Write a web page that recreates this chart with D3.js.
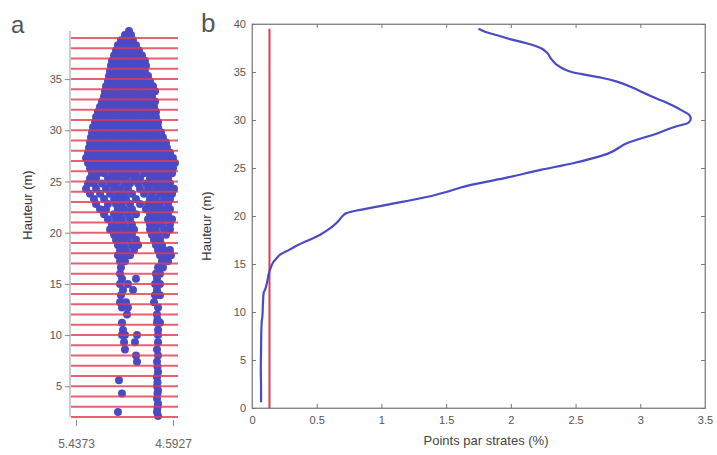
<!DOCTYPE html>
<html><head><meta charset="utf-8">
<script src="https://cdn.jsdelivr.net/npm/d3@7"></script>
<style>html,body{margin:0;padding:0;background:#fff}svg{display:block}</style>
</head><body>
<svg id="c" width="717" height="455"></svg>
<script>
// ---------- DATA ----------
// panel a : tick labels
const aYTicks = [5, 10, 15, 20, 25, 30, 35];
const aXTicks = [5.4373, 4.5927];
// panel a : horizontal strata (1 m)
const aStrata = [2,3,4,5,6,7,8,9,10,11,12,13,14,15,16,17,18,19,20,21,22,23,24,25,26,27,28,29,30,31,32,33,34,35,36,37,38,39];
// panel a : point cloud, rows of [height (m), [x coordinates]]
const treeRows = [
 [39.7,[4.976]],
 [39.3,[5.011,4.958]],
 [38.8,[5.046,4.993,4.941]],
 [38.3,[5.072,5.019,4.967,4.915]],
 [37.8,[5.089,5.037,4.985,4.932,4.889]],
 [37.3,[5.106,5.054,5.002,4.950,4.897,4.863]],
 [36.8,[5.124,5.072,5.019,4.967,4.915,4.863,4.837]],
 [36.3,[5.133,5.080,5.028,4.976,4.924,4.871,4.828]],
 [35.8,[5.141,5.089,5.037,4.985,4.932,4.880,4.837]],
 [35.3,[5.150,5.098,5.046,4.993,4.941,4.889,4.837,4.810]],
 [34.8,[5.159,5.106,5.054,5.002,4.950,4.897,4.845,4.793]],
 [34.3,[5.176,5.124,5.072,5.019,4.967,4.915,4.863,4.810,4.767]],
 [33.8,[5.185,5.133,5.080,5.028,4.976,4.924,4.871,4.819,4.767,4.749]],
 [33.3,[5.193,5.141,5.089,5.037,4.985,4.932,4.880,4.828,4.776]],
 [32.8,[5.211,5.159,5.106,5.054,5.002,4.950,4.897,4.845,4.793,4.749]],
 [32.3,[5.228,5.176,5.124,5.072,5.019,4.967,4.915,4.863,4.810,4.758]],
 [31.8,[5.246,5.193,5.141,5.089,5.037,4.985,4.932,4.880,4.828,4.776,4.741]],
 [31.3,[5.263,5.211,5.159,5.106,5.054,5.002,4.950,4.897,4.845,4.793,4.741]],
 [30.8,[5.272,5.220,5.167,5.115,5.063,5.011,4.958,4.906,4.854,4.802,4.749,4.723]],
 [30.3,[5.289,5.237,5.185,5.133,5.080,5.028,4.976,4.924,4.871,4.819,4.767,4.723]],
 [29.8,[5.298,5.246,5.193,5.141,5.089,5.037,4.985,4.932,4.880,4.828,4.776,4.732,4.697]],
 [29.3,[5.307,5.254,5.202,5.150,5.098,5.046,4.993,4.941,4.889,4.837,4.784,4.732,4.680]],
 [28.8,[5.315,5.263,5.211,5.159,5.106,5.054,5.002,4.950,4.897,4.845,4.793,4.741,4.689,4.654]],
 [28.3,[5.324,5.272,5.220,5.167,5.115,5.063,5.011,4.958,4.906,4.854,4.802,4.749,4.697,4.645]],
 [27.8,[5.333,5.281,5.228,5.176,5.124,5.072,5.019,4.967,4.915,4.863,4.810,4.758,4.706,4.654,4.619]],
 [27.3,[5.350,5.298,5.246,5.193,5.141,5.089,5.037,4.985,4.932,4.880,4.828,4.776,4.723,4.671,4.619,4.593]],
 [26.8,[5.333,5.281,5.228,5.176,5.124,5.072,5.019,4.967,4.915,4.863,4.810,4.758,4.706,4.654,4.601,4.575]],
 [26.3,[5.315,5.263,5.211,5.159,5.106,5.054,5.002,4.950,4.897,4.845,4.793,4.741,4.689,4.636,4.593]],
 [25.8,[5.298,5.246,5.193,5.124,5.072,5.019,4.967,4.915,4.845,4.793,4.741,4.689,4.636,4.601]],
 [25.3,[5.315,5.263,5.159,5.106,5.054,5.002,4.932,4.880,4.793,4.741,4.689,4.636]],
 [24.8,[5.333,5.281,5.211,5.141,5.089,5.019,4.967,4.897,4.828,4.776,4.723,4.671,4.619]],
 [24.3,[5.350,5.263,5.176,5.106,5.054,4.985,4.880,4.810,4.741,4.689,4.636,4.584]],
 [23.8,[5.315,5.228,5.141,5.072,5.019,4.950,4.845,4.776,4.706,4.654,4.601]],
 [23.3,[5.281,5.193,5.106,5.054,5.002,4.915,4.793,4.741,4.671,4.619]],
 [22.8,[5.263,5.159,5.089,5.037,4.967,4.880,4.810,4.758,4.706,4.636]],
 [22.3,[5.228,5.176,5.072,5.019,4.950,4.828,4.776,4.723,4.671,4.619]],
 [21.8,[5.193,5.106,5.054,4.985,4.915,4.793,4.741,4.689,4.636]],
 [21.3,[5.159,5.089,5.037,4.967,4.810,4.758,4.706,4.654,4.601]],
 [20.8,[5.124,5.072,5.019,4.950,4.793,4.741,4.689,4.619]],
 [20.3,[5.141,5.089,5.037,4.985,4.932,4.793,4.741,4.671,4.619]],
 [19.8,[5.106,5.054,5.002,4.950,4.776,4.723,4.654]],
 [19.3,[5.089,5.037,4.985,4.915,4.758,4.706]],
 [18.8,[5.072,5.019,4.950,4.897,4.741,4.689]],
 [18.3,[5.054,5.002,4.932,4.723,4.671,4.619]],
 [17.8,[5.072,5.019,4.967,4.706,4.654,4.610]],
 [17.2,[5.054,5.011,4.689,4.636]],
 [16.6,[5.046,4.723,4.680]],
 [16.0,[5.054,4.741,4.706]],
 [15.5,[5.037,4.915,4.732]],
 [15.0,[5.054,4.985,4.749,4.706]],
 [14.4,[5.028,4.941,4.732]],
 [13.9,[5.046,4.749,4.706]],
 [13.2,[5.054,5.002,4.758]],
 [12.7,[5.037,4.985,4.723]],
 [12.0,[4.993,4.732]],
 [11.5,[4.728]],
 [11.2,[5.037,4.732,4.706]],
 [10.5,[5.028,4.723]],
 [10.0,[5.037,5.011,4.906,4.723]],
 [9.3,[5.019,4.924,4.723]],
 [8.6,[5.011,4.732]],
 [8.0,[4.915,4.723]],
 [7.4,[4.906,4.732]],
 [6.9,[4.728]],
 [6.4,[4.723]],
 [5.9,[4.732]],
 [5.6,[5.063]],
 [5.4,[4.728]],
 [5.0,[4.732]],
 [4.6,[4.723]],
 [4.3,[5.037,4.728]],
 [3.8,[4.732]],
 [3.3,[4.723]],
 [2.9,[4.728]],
 [2.5,[5.072,4.732]],
 [2.1,[4.723]]
];
// panel b : ticks
const bXTicks = [0, 0.5, 1, 1.5, 2, 2.5, 3, 3.5];
const bYTicks = [0, 5, 10, 15, 20, 25, 30, 35, 40];
// panel b : profile of points per stratum (%)
const profHeight = [0.6,2,4,6,8,9,9.5,11,12,12.3,13,14,14.8,15.3,15.6,16,16.5,17,17.5,18,18.5,19,19.5,20,20.3,20.6,21,21.5,22,22.5,23,23.4,24,24.8,25.5,26.5,27.6,28.6,29.3,29.7,30.1,30.5,31,31.5,32,32.5,33,33.5,34,34.4,34.7,35,35.3,35.8,36.4,37,37.5,38,38.4,38.8,39.2,39.5];
const profPct    = [0.07,0.07,0.068,0.07,0.072,0.075,0.08,0.085,0.09,0.1,0.115,0.13,0.15,0.17,0.19,0.22,0.29,0.36,0.44,0.52,0.58,0.63,0.67,0.70,0.73,0.82,0.98,1.17,1.36,1.50,1.62,1.75,1.97,2.23,2.48,2.75,2.9,3.13,3.27,3.37,3.39,3.38,3.32,3.25,3.17,3.08,3.0,2.92,2.82,2.7,2.58,2.47,2.41,2.35,2.31,2.28,2.23,2.12,2.0,1.9,1.8,1.75];
// panel b : mean (red vertical line)
const meanPct = 0.135;
const meanTop = 39.5;

// ---------- DRAW ----------
const svg = d3.select('#c');
const FONT = 'Liberation Sans, Arial, sans-serif';
const blue = '#4a4ac6';
const red = '#e23a50';

// ===== Panel a =====
const xA = d3.scaleLinear().domain([5.4373, 4.5927]).range([76, 173]);
const yA = d3.scaleLinear().domain([2, 39.5]).range([417, 33]);
const aLeft = 71, aRight = 178;

const pts = [];
treeRows.forEach(([h, xs]) => xs.forEach(x => pts.push({h, x})));
svg.append('g').selectAll('circle').data(pts).join('circle')
  .attr('cx', d => xA(d.x)).attr('cy', d => yA(d.h)).attr('r', 4)
  .attr('fill', blue);

svg.append('g').selectAll('line').data(aStrata).join('line')
  .attr('x1', aLeft).attr('x2', aRight)
  .attr('y1', d => yA(d)).attr('y2', d => yA(d))
  .attr('stroke', red).attr('stroke-width', 2).attr('stroke-opacity', 0.8);

// y axis a
const gAy = svg.append('g').attr('transform', `translate(${aLeft - 1},0)`)
  .call(d3.axisLeft(yA).tickValues(aYTicks).tickSize(5).tickPadding(3));
gAy.select('.domain').attr('stroke', '#999').attr('d', `M0,${yA(39.7)}V${yA(2)}`);
gAy.selectAll('.tick line').attr('stroke', '#888');
gAy.selectAll('text').attr('fill', '#555').style('font-family', FONT).style('font-size', '11px');

// x axis a (ticks only)
const gAx = svg.append('g').attr('transform', `translate(0,${yA(2) + 3})`)
  .call(d3.axisBottom(xA).tickValues(aXTicks).tickFormat(d3.format('.4f')).tickSize(6).tickPadding(13));
gAx.select('.domain').remove();
gAx.selectAll('.tick line').attr('stroke', '#888');
gAx.selectAll('text').attr('fill', '#666').style('font-family', FONT).style('font-size', '12px');

svg.append('text').attr('transform', 'translate(32,205) rotate(-90)')
  .attr('text-anchor', 'middle').style('font-family', FONT).style('font-size', '13px')
  .attr('fill', '#333').text('Hauteur (m)');
svg.append('text').attr('x', 11).attr('y', 33).style('font-family', FONT)
  .style('font-size', '24px').attr('fill', '#555').text('a');

// ===== Panel b =====
const xB = d3.scaleLinear().domain([0, 3.5]).range([252, 705]);
const yB = d3.scaleLinear().domain([0, 40]).range([408, 24]);

svg.append('rect').attr('x', xB(0)).attr('y', yB(40))
  .attr('width', xB(3.5) - xB(0)).attr('height', yB(0) - yB(40))
  .attr('fill', 'none').attr('stroke', '#999').attr('stroke-width', 1);

const fmt = d => String(d);
const gBx = svg.append('g').attr('transform', `translate(0,${yB(0)})`)
  .call(d3.axisBottom(xB).tickValues(bXTicks).tickFormat(fmt).tickSize(-4).tickPadding(8));
const gBxT = svg.append('g').attr('transform', `translate(0,${yB(40)})`)
  .call(d3.axisTop(xB).tickValues(bXTicks).tickFormat('').tickSize(-4));
const gBy = svg.append('g').attr('transform', `translate(${xB(0)},0)`)
  .call(d3.axisLeft(yB).tickValues(bYTicks).tickFormat(fmt).tickSize(-4).tickPadding(6));
const gByR = svg.append('g').attr('transform', `translate(${xB(3.5)},0)`)
  .call(d3.axisRight(yB).tickValues(bYTicks).tickFormat('').tickSize(-4));
[gBx, gBxT, gBy, gByR].forEach(g => {
  g.select('.domain').attr('stroke', '#888');
  g.selectAll('.tick line').attr('stroke', '#777');
  g.selectAll('text').attr('fill', '#555').style('font-family', FONT).style('font-size', '11px');
});

svg.append('line').attr('x1', xB(meanPct)).attr('x2', xB(meanPct))
  .attr('y1', yB(0)).attr('y2', yB(meanTop))
  .attr('stroke', red).attr('stroke-width', 2);

const prof = profHeight.map((h, i) => ({h, p: profPct[i]}));
svg.append('path').datum(prof)
  .attr('d', d3.line().x(d => xB(d.p)).y(d => yB(d.h)).curve(d3.curveMonotoneY))
  .attr('fill', 'none').attr('stroke', blue).attr('stroke-width', 2.2);

svg.append('text').attr('transform', 'translate(211,226) rotate(-90)')
  .attr('text-anchor', 'middle').style('font-family', FONT).style('font-size', '13px')
  .attr('fill', '#333').text('Hauteur (m)');
svg.append('text').attr('x', 486).attr('y', 445).attr('text-anchor', 'middle')
  .style('font-family', FONT).style('font-size', '13px').attr('fill', '#444')
  .text('Points par strates (%)');
svg.append('text').attr('x', 201).attr('y', 32).style('font-family', FONT)
  .style('font-size', '26px').attr('fill', '#555').text('b');
</script>
</body></html>
